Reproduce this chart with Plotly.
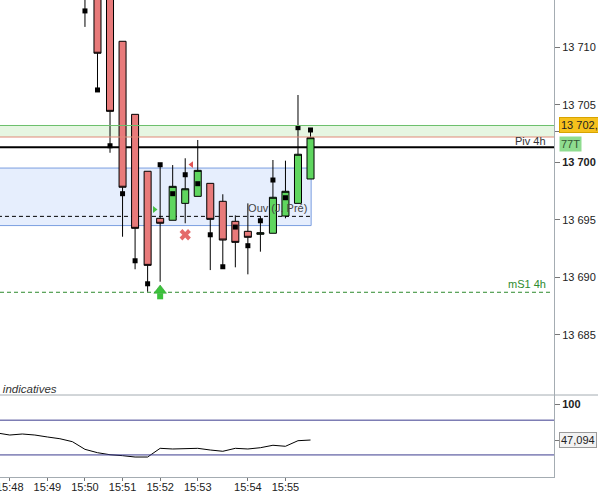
import plotly.graph_objects as go

# ---- data (candle index based, 77-tick candles) ----
idx = list(range(19))
opens  = [13718.0, 13716.0, 13715.0, 13710.52, 13704.17, 13699.22, 13695.13, 13694.96, 13696.43, 13697.04,
          13698.17, 13696.61, 13694.87, 13694.00, 13693.74, 13693.83, 13695.33, 13696.43, 13698.55]
highs  = [13720.0, 13717.0, 13716.0, 13710.52, 13704.17, 13699.22, 13699.79, 13699.76, 13700.35, 13701.94,
          13698.17, 13697.22, 13695.39, 13696.43, 13695.27, 13700.20, 13700.14, 13705.85, 13702.81]
lows   = [13711.77, 13706.29, 13700.83, 13693.53, 13690.70, 13688.75, 13689.62, 13694.96, 13694.70, 13697.04,
          13690.63, 13690.92, 13690.87, 13690.26, 13692.23, 13693.83, 13695.13, 13696.43, 13698.55]
closes = [13715.0, 13709.48, 13704.43, 13697.83, 13694.26, 13691.04, 13694.70, 13697.91, 13697.70, 13699.30,
          13695.04, 13693.24, 13693.04, 13693.48, 13693.88, 13696.96, 13697.48, 13700.70, 13702.14]
marks  = [13713.16, 13706.29, 13701.44, 13697.27, 13691.44, 13689.44, 13699.79, 13697.27, 13698.92, 13698.14,
          13693.70, 13690.92, 13694.37, 13692.75, 13694.92, 13698.46, 13696.92, 13703.01, 13702.81]

ind_x = list(range(-7, 19))
ind_v = [57.5, 54.5, 56.0, 54.5, 51.6, 49.0, 44.6, 33.3, 28.3, 25.3, 23.9, 21.9, 21.9, 34.8, 33.8, 34.8,
         34.8, 32.3, 30.4, 34.8, 33.8, 35.7, 39.3, 37.8, 46.1, 47.094]
ind_levels = [76.5, 25.0]

time_pos = [-6, -3, 0, 3, 6, 9, 13, 16]
time_txt = ["15:48", "15:49", "15:50", "15:51", "15:52", "15:53", "15:54", "15:55"]

price_ticks = [13685, 13690, 13695, 13700, 13702.7, 13705, 13710]
price_txt = ["13 685", "13 690", "13 695", "<b>13 700</b>", "", "13 705", "13 710"]

band_top, band_bot = 13703.2, 13702.2
piv_4h = 13701.3
zone_top, zone_bot = 13699.5, 13694.5
zone_end = 18.05
ouv_jpre = 13695.3
ouv_label_pos = (17.75, 13695.9)
ms1_4h = 13688.7
last_price_label = 13702.7
tick_label_level = 13701.57

buy_arrow = (6, 13688.85, 13688.35)
green_tri = (5.55, 13695.9)
red_tri = (8.5, 13699.8)
red_x = (8, 13693.7)

FONT = "Arial, 'Liberation Sans', sans-serif"
AX = "#a4acb2"

fig = go.Figure()

# label drawn beneath the candles
fig.add_trace(go.Scatter(x=[ouv_label_pos[0]], y=[ouv_label_pos[1]], mode="text", text=["Ouv (J. Pré)"],
    textposition="middle left", textfont=dict(size=11, color="#444"), hoverinfo="skip", showlegend=False))

fig.add_trace(go.Candlestick(
    x=idx, open=opens, high=highs, low=lows, close=closes,
    increasing=dict(line=dict(color="black", width=1), fillcolor="#5fd65f"),
    decreasing=dict(line=dict(color="black", width=1), fillcolor="#e87a7a"),
    xaxis="x", yaxis="y", hoverinfo="skip", showlegend=False))

fig.add_trace(go.Scatter(x=idx, y=marks, mode="markers",
    marker=dict(symbol="square", size=5, color="black"), xaxis="x", yaxis="y", showlegend=False))

# signal markers
fig.add_trace(go.Scatter(x=[buy_arrow[0]], y=[buy_arrow[2]], mode="markers",
    marker=dict(symbol="square", size=6, color="#3cc23c", line=dict(width=0)), showlegend=False))
fig.add_trace(go.Scatter(x=[buy_arrow[0]], y=[buy_arrow[1]], mode="markers",
    marker=dict(symbol="triangle-up", size=11, color="#3cc23c", line=dict(width=0.5, color="#2c9a2c")), showlegend=False))
fig.add_trace(go.Scatter(x=[green_tri[0]], y=[green_tri[1]], mode="markers",
    marker=dict(symbol="triangle-right", size=6, color="#45c045"), showlegend=False))
fig.add_trace(go.Scatter(x=[red_tri[0]], y=[red_tri[1]], mode="markers",
    marker=dict(symbol="triangle-left", size=6, color="#e05555"), showlegend=False))
fig.add_trace(go.Scatter(x=[red_x[0]], y=[red_x[1]], mode="markers",
    marker=dict(symbol="x", size=10, color="#e46a6a", line=dict(width=0)), showlegend=False))

# indicator
fig.add_trace(go.Scatter(x=ind_x, y=ind_v, mode="lines", line=dict(color="black", width=1),
    xaxis="x2", yaxis="y2", showlegend=False))

shapes = [
    dict(type="rect", xref="x domain", yref="y", x0=0, x1=1, y0=band_bot, y1=band_top,
         fillcolor="#e6f6e2", line=dict(width=0), layer="below"),
    dict(type="line", xref="x domain", yref="y", x0=0, x1=1, y0=band_top, y1=band_top,
         line=dict(color="#6cc06c", width=1)),
    dict(type="line", xref="x domain", yref="y", x0=0, x1=1, y0=band_bot, y1=band_bot,
         line=dict(color="#e08a78", width=1)),
    dict(type="rect", xref="x", yref="y", x0=-7.5, x1=zone_end, y0=zone_bot, y1=zone_top,
         fillcolor="#e6eefd", line=dict(color="#7a9ee0", width=1), layer="below"),
    dict(type="line", xref="x", yref="y", x0=-7.5, x1=zone_end, y0=ouv_jpre, y1=ouv_jpre,
         line=dict(color="black", width=1, dash="4px,3px"), layer="below"),
    dict(type="line", xref="x domain", yref="y", x0=0, x1=1, y0=piv_4h, y1=piv_4h,
         line=dict(color="black", width=2), layer="below"),
    dict(type="line", xref="x domain", yref="y", x0=0, x1=0.993, y0=ms1_4h, y1=ms1_4h,
         line=dict(color="#2e8b2e", width=1, dash="4px,3px"), layer="below"),
    dict(type="line", xref="paper", yref="paper", x0=0, x1=1.1, y0=82/477, y1=82/477,
         line=dict(color=AX, width=1)),
]
for lv in ind_levels:
    shapes.append(dict(type="line", xref="x2 domain", yref="y2", x0=0, x1=1, y0=lv, y1=lv,
                       line=dict(color="#3b3b8e", width=1)))

annotations = [
    dict(text="Piv 4h", xref="paper", x=548/554, xanchor="right", yref="y", y=piv_4h,
         yanchor="middle", yshift=6, showarrow=False, font=dict(size=11, color="#333")),
    dict(text="mS1 4h", xref="paper", x=548/554, xanchor="right", yref="y", y=ms1_4h,
         yanchor="middle", yshift=8, showarrow=False, font=dict(size=11, color="#2e8b2e")),
    dict(text="<i>Données de Bourse indicatives</i>", xref="paper", x=59/554, xanchor="right",
         yref="paper", y=(477-389)/477, yanchor="middle", showarrow=False,
         font=dict(size=11.5, color="#333")),
    dict(text="13 702,75", xref="paper", x=1, xanchor="left", xshift=5, yref="y", y=last_price_label,
         yanchor="middle", yshift=6, showarrow=False, bgcolor="#f6c11c", bordercolor="#d7a400",
         borderwidth=1, borderpad=1, font=dict(size=11, color="#222")),
    dict(text="77T", xref="paper", x=1, xanchor="left", xshift=5, yref="y", y=tick_label_level,
         yanchor="middle", showarrow=False, bgcolor="#8fdc8f", borderpad=1,
         font=dict(size=11, color="#335533")),
    dict(text="47,094", xref="paper", x=1, xanchor="left", xshift=5, yref="y2", y=ind_v[-1],
         yanchor="middle", showarrow=False, bgcolor="#f2f2f2", bordercolor="#9a9a9a",
         borderwidth=1, borderpad=1, font=dict(size=11, color="#222")),
]

xr = [-6.78, 37.43]
fig.update_layout(
    width=598, height=493,
    margin=dict(l=0, r=44, t=0, b=16),
    paper_bgcolor="white", plot_bgcolor="white",
    font=dict(family=FONT, size=11, color="#222"),
    boxgap=0.2,
    showlegend=False,
    shapes=shapes, annotations=annotations,
    xaxis=dict(domain=[0, 1], range=xr, anchor="y", showticklabels=False, ticks="",
               showgrid=False, zeroline=False, showline=False, rangeslider=dict(visible=False)),
    yaxis=dict(domain=[82/477, 1], range=[13679.77, 13714.11], side="right", anchor="x",
               tickvals=price_ticks, ticktext=price_txt, ticks="outside", ticklen=5, tickcolor="#777",
               showgrid=False, zeroline=False, showline=True, linecolor=AX, automargin=False),
    xaxis2=dict(domain=[0, 1], range=xr, anchor="y2", matches="x", tickvals=time_pos, ticktext=time_txt,
                ticks="outside", ticklen=3, tickcolor="#777", showgrid=False, zeroline=False,
                ticklabelstandoff=-3, ticklabeloverflow="allow",
                showline=True, linecolor=AX, automargin=False),
    yaxis2=dict(domain=[0, 82/477], range=[-7.7, 113.8], side="right", anchor="x2",
                tickvals=[100, ind_v[-1]], ticktext=["<b>100</b>", ""], ticks="outside", ticklen=5,
                tickcolor="#777", showgrid=False, zeroline=False, showline=True, linecolor=AX,
                automargin=False),
)

fig.write_html("out.html", config={"displayModeBar": False},
               post_script="document.body.style.margin='0';document.body.style.overflow='hidden';")
